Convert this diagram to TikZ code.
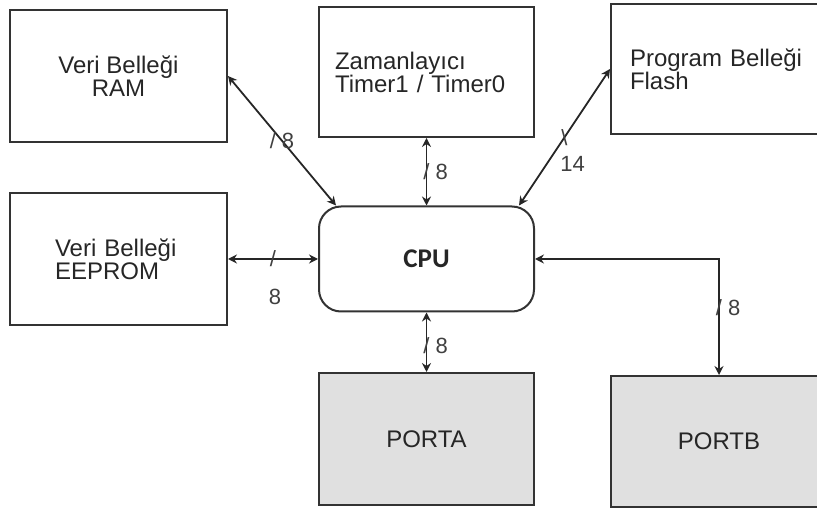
\documentclass[tikz,border=0pt]{standalone}
\usepackage{fontspec}
\setmainfont{Liberation Sans}
\newfontfamily\cpufont{Carlito}
\usetikzlibrary{arrows.meta,calc}

\begin{document}
\begin{tikzpicture}[x=1pt,y=1pt,
	box/.style={draw=black!80,line width=2pt,minimum height=132pt,inner sep=0pt,
		text=black!85,font=\fontsize{24}{23}\selectfont},
	port/.style={box,fill=black!12},
	bus/.style={line width=1.8pt,draw=black!85,
		{Stealth[length=9pt,width=9pt]}-{Stealth[length=9pt,width=9pt]}},
	buslabel/.style={inner sep=0pt,text=black!75,font=\fontsize{22}{22}\selectfont}]
	\useasboundingbox (0,0) rectangle (817,509);
	% memories and timer
	\node[box,minimum width=217pt,align=center] (ram) at (118.5,433) {Veri Belleği\\RAM};
	\node[box,minimum width=215pt,minimum height=130pt,align=left,text width=183pt] (timer) at (426.5,437) {Zamanlayıcı\\Timer1 / Timer0};
	\node[box,minimum width=228pt,minimum height=130pt,align=left,text width=190pt] (flash) at (725,440) {Program Belleği\\Flash};
	\node[box,minimum width=217pt,align=left,text width=127pt] (eeprom) at (118.5,250) {Veri Belleği\\EEPROM};
	% cpu
	\node[box,minimum width=215pt,minimum height=105pt,rounded corners=22pt,
		font=\cpufont\fontsize{27}{28}\selectfont\bfseries] (cpu) at (426.5,250) {CPU};
	% ports
	\node[port,minimum width=215pt] (porta) at (426.5,70) {PORTA};
	\node[port,minimum width=216pt,minimum height=131pt] (portb) at (719,67.5) {PORTB};
	% buses
	\coordinate (cpuram) at ($(cpu.north west)+(18,0)$);
	\coordinate (cpuflash) at ($(cpu.north east)+(-16,0)$);
	\draw[bus] (ram.east) -- (cpuram) node[buslabel,pos=.5] {/ 8};
	\draw[bus] (timer.south) -- (cpu.north) node[buslabel,pos=.5,anchor=west,xshift=-4pt] {/ 8};
	\draw[bus] (cpuflash) -- (flash.west) node[buslabel,pos=.5] {\textbackslash}
		node[buslabel,pos=.5,xshift=8pt,yshift=-27pt] {14};
	\draw[bus] (eeprom.east) -- (cpu.west) node[buslabel,pos=.5] {/}
		node[buslabel,pos=.5,xshift=2pt,yshift=-38pt] {8};
	\draw[bus] (cpu.south) -- (porta.north) node[buslabel,pos=.55,anchor=west,xshift=-4pt] {/ 8};
	\draw[bus] (cpu.east) -| (portb.north) node[buslabel,pos=.71,anchor=west,xshift=-4pt] {/ 8};
\end{tikzpicture}
\end{document}
